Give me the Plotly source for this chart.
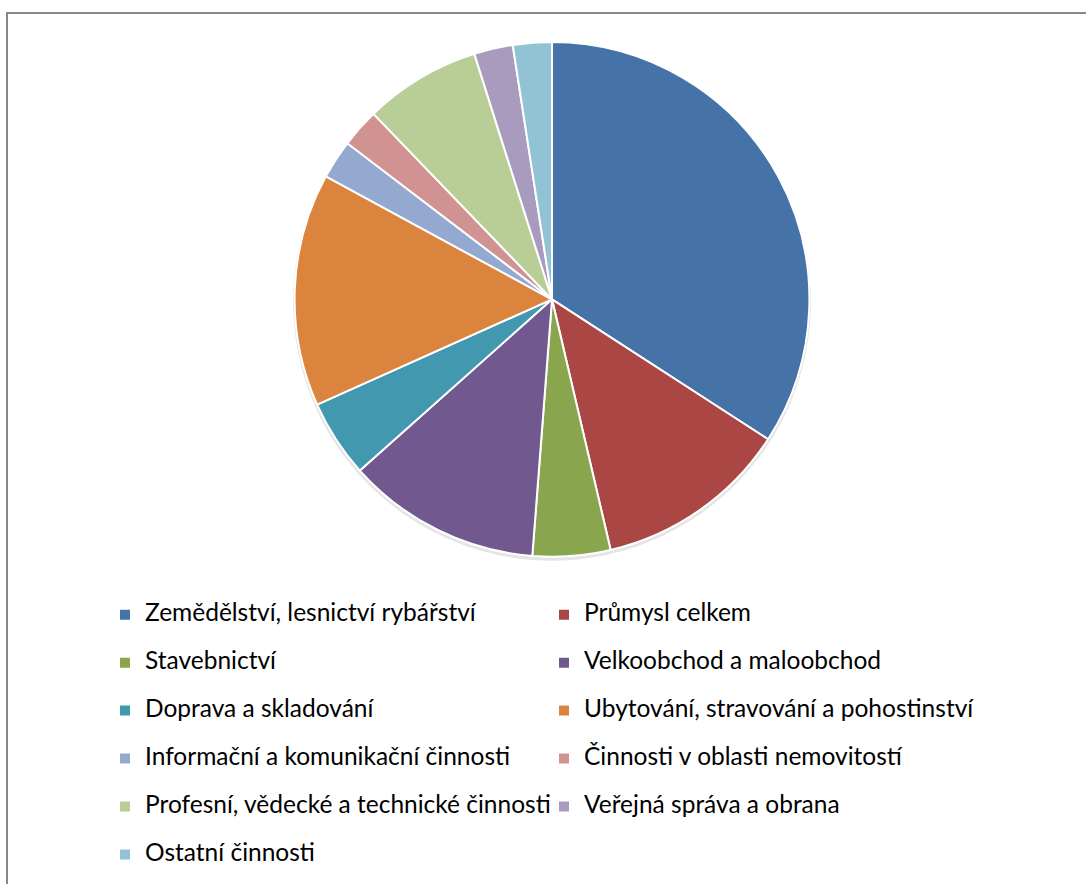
import plotly.graph_objects as go

labels = [
    "Zemědělství, lesnictví rybářství",
    "Průmysl celkem",
    "Stavebnictví",
    "Velkoobchod a maloobchod",
    "Doprava a skladování",
    "Ubytování, stravování a pohostinství",
    "Informační a komunikační činnosti",
    "Činnosti v oblasti nemovitostí",
    "Profesní, vědecké a technické činnosti",
    "Veřejná správa a obrana",
    "Ostatní činnosti",
]
values = [14, 5, 2, 5, 2, 6, 1, 1, 3, 1, 1]
colors = ["#4572A7", "#AA4643", "#89A54E", "#71588F", "#4198AF", "#DB843D",
          "#93A9CF", "#D19392", "#B9CD96", "#A99BBD", "#92C3D4"]

W, H = 1086, 884
cx, cy, r = 552, 300, 258

legend_labels = ['<span style="font-size:24.5px;baseline-shift:7px">%s</span>' % l for l in labels]

fig = go.Figure(go.Pie(
    labels=legend_labels,
    values=values,
    sort=False,
    direction="clockwise",
    rotation=0,
    textinfo="none",
    hoverinfo="skip",
    marker=dict(colors=colors, line=dict(color="white", width=2)),
    domain=dict(x=[(cx - r) / W, (cx + r) / W], y=[1 - (cy + r) / H, 1 - (cy - r) / H]),
))

fig.update_layout(
    width=W, height=H,
    margin=dict(l=0, r=0, t=0, b=0),
    paper_bgcolor="white",
    plot_bgcolor="white",
    font=dict(family="Lato, 'Open Sans', sans-serif", color="#000000"),
    showlegend=True,
    legend=dict(
        orientation="h",
        x=105 / W, xanchor="left",
        y=1 - 587 / H, yanchor="top",
        entrywidth=394,
        font=dict(size=34.6, family="Lato, sans-serif", color="#000000"),
        bgcolor="rgba(0,0,0,0)",
        borderwidth=0,
    ),
    shapes=[
        dict(type="circle", xref="paper", yref="paper", layer="below",
             x0=(cx - r - 1) / W, x1=(cx + r + 1) / W,
             y0=1 - (cy + r + 4) / H, y1=1 - (cy - r + 1) / H,
             fillcolor="rgba(0,0,0,0.10)", line=dict(width=0)),
        dict(type="rect", xref="paper", yref="paper", layer="above",
             x0=7 / W, x1=1.02, y0=-0.02, y1=1 - 13 / H,
             line=dict(color="#878787", width=2), fillcolor="rgba(0,0,0,0)"),
    ],
)

fig.write_html("out.html", config={"displayModeBar": False},
               post_script="document.body.style.margin='0';")
